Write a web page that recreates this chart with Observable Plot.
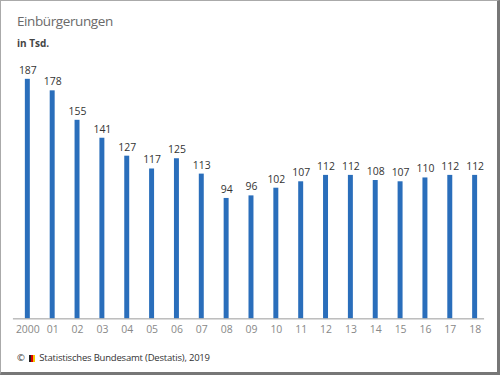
<!DOCTYPE html>
<html>
<head>
<meta charset="utf-8">
<script src="https://cdn.jsdelivr.net/npm/d3@7"></script>
<script src="https://cdn.jsdelivr.net/npm/@observablehq/plot@0.6"></script>
<style>
  html, body { margin: 0; padding: 0; background: #fff; }
  #frame {
    position: relative; width: 496px; height: 371px;
    border-top: 1px solid #aaa; border-left: 1px solid #aaa;
    border-right: 3px solid #777; border-bottom: 3px solid #777;
    font-family: "Open Sans", sans-serif; overflow: hidden;
  }
  #title { position: absolute; left: 16px; top: 11px; font-size: 13.5px; letter-spacing: -0.4px; color: #6a6a6a; font-weight: 400; }
  #sub { position: absolute; left: 16px; top: 35px; font-size: 10px; color: #444; font-weight: 700; }
  #chart { position: absolute; left: -1px; top: 47px; }
  #foot { position: absolute; left: 16px; top: 350px; font-size: 9.5px; letter-spacing: -0.2px; color: #333; }
  .logo { display: inline-block; width: 6px; height: 7px; vertical-align: -1px; margin: 0 2px 0 2px;
          background: linear-gradient(to right, #222 0 33%, #d00 33% 66%, #f5c400 66% 100%); }
</style>
</head>
<body>
<div id="frame">
  <div id="title">Einbürgerungen</div>
  <div id="sub">in Tsd.</div>
  <div id="chart"></div>
  <div id="foot">© <span class="logo"></span> Statistisches Bundesamt (Destatis), 2019</div>
</div>
<script>
const years = ["2000","01","02","03","04","05","06","07","08","09","10","11","12","13","14","15","16","17","18"];
const values = [187,178,155,141,127,117,125,113,94,96,102,107,112,112,108,107,110,112,112];

const data = years.map((y, i) => ({year: y, value: values[i]}));

const chart = Plot.plot({
  width: 500,
  height: 296,
  marginLeft: 13,
  marginRight: 13,
  marginTop: 31,
  marginBottom: 24,
  style: { fontFamily: "Open Sans, sans-serif", background: "transparent" },
  x: { domain: years, paddingInner: 0.79, paddingOuter: 0.36, align: 0.62, label: null, tickSize: 0, tickPadding: 6 },
  y: { domain: [0, 187], axis: null },
  marks: [
    Plot.barY(data, { x: "year", y: "value", fill: "#2a6ebb" }),
    Plot.ruleY([0], { stroke: "#999", strokeWidth: 1 }),
    Plot.text(data, { x: "year", y: "value", text: d => String(d.value), dy: -9, fontSize: 10.5, fill: "#333" }),
    Plot.axisX({ tickSize: 0, tickPadding: 7, fontSize: 10.5, color: "#888", label: null })
  ]
});
document.getElementById("chart").appendChild(chart);
</script>
</body>
</html>
